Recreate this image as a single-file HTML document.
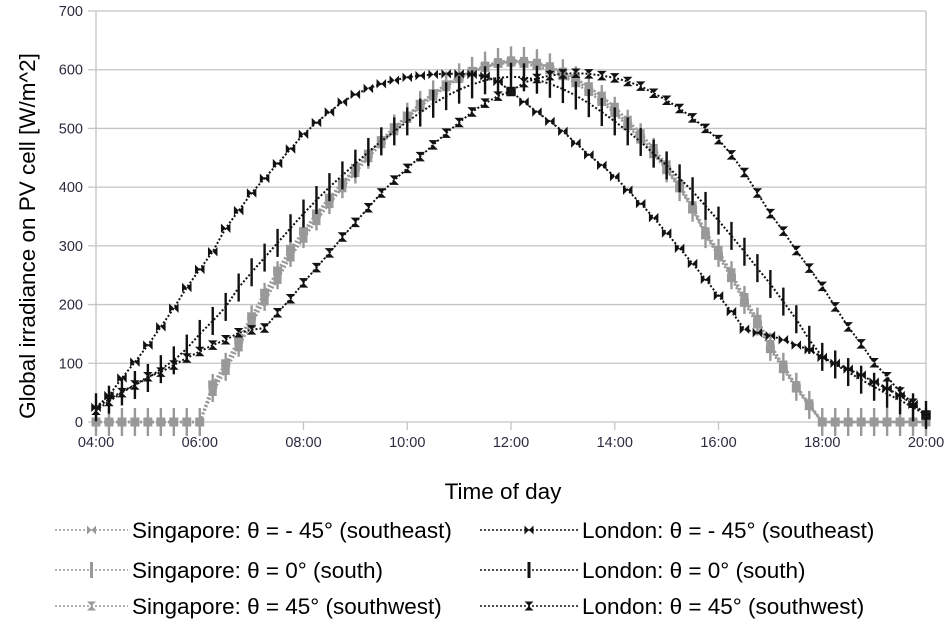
<!DOCTYPE html>
<html><head><meta charset="utf-8"><style>
body{margin:0;background:#fff;}
svg{display:block;font-family:"Liberation Sans",sans-serif;}
</style></head><body>
<svg id="chart" width="948" height="629" viewBox="0 0 948 629" xmlns="http://www.w3.org/2000/svg">
<g id="grid"></g>
<g id="axes"></g>
<g id="series"></g>
<text x="503" y="499" font-size="22.5" text-anchor="middle" fill="#000">Time of day</text>
<text transform="translate(35,236) rotate(-90)" font-size="22.5" text-anchor="middle" fill="#000">Global irradiance on PV cell [W/m^2]</text>
<g id="legend"></g>
</svg>
<script>
const yTicks=[0,100,200,300,400,500,600,700];
const xTicks=[4,6,8,10,12,14,16,18,20];
const xTickLabels=["04:00","06:00","08:00","10:00","12:00","14:00","16:00","18:00","20:00"];
const tStart=4, tStep=0.25;
const sgSE=[0,0,0,0,0,0,0,0,0,64,100,140,180,220,258,295,325,355,382,408,433,457,480,502,522,542,560,575,588,598,605,610,612,610,606,599,589,577,562,545,526,504,481,456,429,398,362,318,283,245,203,166,124,90,57,27,0,0,0,0,0,0,0,0,0];
const sgS=[0,0,0,0,0,0,0,0,0,58,94,135,175,213,250,288,320,350,378,405,430,455,478,500,520,540,558,573,587,598,607,613,616,615,611,604,594,582,567,550,530,508,485,460,432,400,365,320,288,250,208,171,128,94,60,29,0,0,0,0,0,0,0,0,0];
const sgSW=[0,0,0,0,0,0,0,0,0,52,88,128,168,206,243,281,313,343,372,399,425,450,474,496,517,537,555,571,585,596,604,611,614,614,611,605,596,585,571,555,536,514,491,466,438,404,368,324,292,254,212,175,132,97,62,31,0,0,0,0,0,0,0,0,0];
const ldSE=[25,45,75,102,131,162,194,229,260,290,330,360,390,415,440,465,490,510,528,545,558,568,576,582,587,590,592,593,593,592,589,580,563,545,528,512,495,475,455,437,418,395,372,348,322,296,270,243,215,188,158,152,147,140,131,123,110,100,90,80,68,57,45,30,12];
const ldS=[25,38,52,63,75,90,105,125,150,172,196,229,255,280,305,330,355,378,400,420,440,460,478,495,512,527,542,555,566,575,582,586,588,587,583,576,567,556,543,528,512,495,477,457,437,415,393,368,343,317,290,262,235,205,175,140,111,98,85,72,60,48,37,25,12];
const ldSW=[20,35,50,63,77,85,97,109,120,131,140,152,157,160,186,210,237,263,288,315,340,365,390,412,432,452,472,492,510,528,543,555,563,578,585,590,593,594,593,590,586,580,572,560,548,534,518,500,481,455,425,390,355,325,292,262,231,196,162,133,101,77,51,32,12];

const NS="http://www.w3.org/2000/svg";
const X0=96,X1=926,Y0=422,Y1=11;
function xs(t){return X0+(t-4)/(20-4)*(X1-X0);}
function ys(v){return Y0-v/700*(Y0-Y1);}
function mk(tag,attrs,parent){const e=document.createElementNS(NS,tag);for(const k in attrs)e.setAttribute(k,attrs[k]);parent.appendChild(e);return e;}
const grid=document.getElementById('grid'),axes=document.getElementById('axes'),ser=document.getElementById('series'),leg=document.getElementById('legend');
yTicks.forEach(v=>{
  const l=mk('line',{x1:88,x2:X1,y1:ys(v),y2:ys(v),stroke:'#c4c4c4','stroke-width':1.3},grid);
  
  
  const t=mk('text',{x:83,y:ys(v)+5,'font-size':14.5,'text-anchor':'end',fill:'#2b2b40'},axes);
  t.textContent=v;
  
  
});
const va=mk('line',{x1:X0,x2:X0,y1:Y1,y2:Y0+8,stroke:'#c4c4c4','stroke-width':1.3},axes);


const vb=mk('line',{x1:X1,x2:X1,y1:Y1,y2:Y0+8,stroke:'#c4c4c4','stroke-width':1.3},axes);


xTicks.forEach((t,i)=>{
  const l=mk('line',{x1:xs(t),x2:xs(t),y1:Y0,y2:Y0+8,stroke:'#c4c4c4','stroke-width':1.3},axes);
  
  
  const tx=mk('text',{x:xs(t),y:447,'font-size':14.5,'text-anchor':'middle',fill:'#2b2b40'},axes);
  tx.textContent=xTickLabels[i];
  
  
});
function marker(g,type,x,y,col,s){
  if(type==='bowtie'){mk('path',{d:`M${x-5*s},${y-5*s}L${x+5*s},${y+5*s}L${x+5*s},${y-5*s}L${x-5*s},${y+5*s}Z`,fill:col},g);}
  else if(type==='bar'){mk('rect',{x:x-1.2,y:y-14,width:2.4,height:28,fill:col},g);}
  else {mk('path',{d:`M${x-5*s},${y-5*s}L${x+5*s},${y+5*s}L${x-5*s},${y+5*s}L${x+5*s},${y-5*s}Z`,fill:col},g);}
}
const seriesList=[
 {d:sgSE,c:'#999',m:'bowtie',n:'singapore-southeast',w:2.6,sq:true},
 {d:sgS,c:'#999',m:'bar',n:'singapore-south',w:2.6,sq:true},
 {d:sgSW,c:'#999',m:'hour',n:'singapore-southwest',w:2.6,sq:true},
 {d:ldSE,c:'#111',m:'bowtie',n:'london-southeast',w:2,sq:false},
 {d:ldS,c:'#111',m:'bar',n:'london-south',w:2,sq:false},
 {d:ldSW,c:'#111',m:'hour',n:'london-southwest',w:2,sq:false}];
seriesList.forEach(s=>{
  const g=mk('g',{},ser);
  
  
  const pts=s.d.map((v,i)=>xs(tStart+i*tStep).toFixed(1)+','+ys(v).toFixed(1)).join(' ');
  const pl=mk('polyline',{points:pts,fill:'none',stroke:s.c,'stroke-width':s.w,'stroke-dasharray':'2,2'},g);
  
  
  s.d.forEach((v,i)=>{
    const x=xs(tStart+i*tStep),y=ys(v);
    if(s.sq) mk('rect',{x:x-4,y:y-4,width:8,height:8,fill:s.c},g);
    marker(g,s.m,x,y,s.c,s.sq?0.9:0.95);
  });
});
const legItems=[
 {x:55,len:73,y:530,c:'#999',m:'bowtie',t:'Singapore: θ = - 45° (southeast)'},
 {x:55,len:73,y:570,c:'#999',m:'bar',t:'Singapore: θ = 0° (south)'},
 {x:55,len:73,y:606,c:'#999',m:'hour',t:'Singapore: θ = 45° (southwest)'},
 {x:480,len:98,y:530,c:'#111',m:'bowtie',t:'London: θ = - 45° (southeast)'},
 {x:480,len:98,y:570,c:'#111',m:'bar',t:'London: θ = 0° (south)'},
 {x:480,len:98,y:606,c:'#111',m:'hour',t:'London: θ = 45° (southwest)'}];
legItems.forEach(it=>{
  const g=mk('g',{},leg);
  
  
  mk('line',{x1:it.x,x2:it.x+it.len,y1:it.y,y2:it.y,stroke:it.c,'stroke-width':1.6,'stroke-dasharray':'2,2'},g);
  const cx=it.x+it.len/2;
  if(it.m==='bar') mk('rect',{x:cx-1.5,y:it.y-8,width:3,height:16,fill:it.c},g);
  else marker(g,it.m,cx,it.y,it.c,0.9);
  const t=mk('text',{x:it.x+it.len+4,y:it.y+8,'font-size':22.5,fill:'#000'},g);
  t.textContent=it.t;
});
</script>
</body></html>
